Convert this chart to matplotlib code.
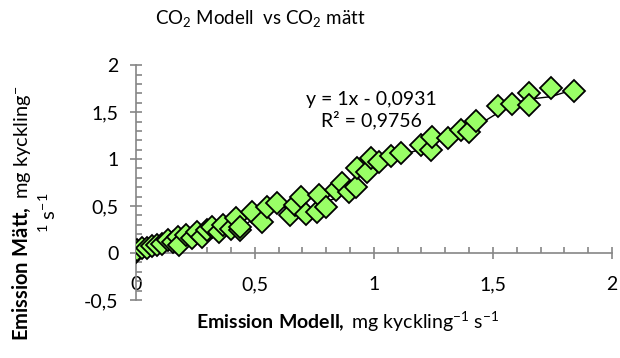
import numpy as np
import matplotlib.pyplot as plt
from matplotlib.ticker import MultipleLocator

plt.rcParams['font.family'] = ['Lato', 'DejaVu Sans']
plt.rcParams['mathtext.fontset'] = 'custom'
plt.rcParams['mathtext.rm'] = 'Lato'
plt.rcParams['mathtext.it'] = 'Lato'
plt.rcParams['mathtext.bf'] = 'Lato:bold'

x_modell = [0.0, 0.004, 0.025, 0.046, 0.067, 0.088, 0.11, 0.135, 0.155, 0.176, 0.18,
            0.21, 0.235, 0.256, 0.28, 0.30, 0.32, 0.35, 0.365, 0.40, 0.42, 0.436, 0.436,
            0.49, 0.53, 0.553, 0.595, 0.646, 0.667, 0.696, 0.717, 0.763, 0.77, 0.80,
            0.843, 0.868, 0.897, 0.927, 0.93, 0.97, 0.99, 1.02, 1.07, 1.115, 1.20,
            1.24, 1.245, 1.31, 1.367, 1.40, 1.43, 1.52, 1.58, 1.65, 1.65, 1.745, 1.84]
y_matt = [0.01, 0.03, 0.05, 0.05, 0.07, 0.085, 0.10, 0.14, 0.12, 0.17, 0.09,
          0.19, 0.16, 0.22, 0.17, 0.24, 0.28, 0.22, 0.30, 0.26, 0.37, 0.245, 0.277,
          0.436, 0.33, 0.49, 0.53, 0.40, 0.51, 0.60, 0.42, 0.44, 0.62, 0.49,
          0.67, 0.745, 0.65, 0.70, 0.90, 0.86, 1.01, 0.97, 1.03, 1.06, 1.15,
          1.10, 1.23, 1.22, 1.31, 1.29, 1.41, 1.57, 1.59, 1.70, 1.575, 1.755, 1.73]

trend_text = "y = 1x - 0,0931\nR² = 0,9756"

x = np.array(x_modell)
y = np.array(y_matt)
# smoothed line through the points (2-point moving average)
y_avg = np.convolve(y, [0.5, 0.5], mode='valid')
x_avg = x[1:]

gray = '#868686'
fig = plt.figure(figsize=(6.2, 3.58), dpi=100)
ax = fig.add_axes([0.219, 0.162, 0.768, 0.656])

ax.plot(x_avg, y_avg, color='black', lw=1, zorder=2)
ax.plot(x, y, linestyle='none', marker='D', ms=11, markerfacecolor='#99FF66',
        markeredgecolor='black', markeredgewidth=1.3, zorder=3)

ax.set_xlim(0, 2)
ax.set_ylim(-0.5, 2)

for s in ['top', 'right', 'bottom']:
    ax.spines[s].set_visible(False)
ax.spines['left'].set_color(gray)
ax.spines['left'].set_linewidth(1.2)

fmt = lambda v, p: f"{v:g}".replace('.', ',')

ax.yaxis.set_major_locator(MultipleLocator(0.5))
ax.yaxis.set_minor_locator(MultipleLocator(0.1))
ax.yaxis.set_major_formatter(fmt)
ax.tick_params(axis='y', which='major', direction='inout', length=9, width=1.2,
               color=gray, labelsize=14, pad=8)
ax.tick_params(axis='y', which='minor', direction='in', length=4, width=1.2, color=gray)
ax.tick_params(axis='x', which='both', bottom=False, labelbottom=False)

sec = ax.secondary_xaxis(0.2)
sec.spines['bottom'].set_color(gray)
sec.spines['bottom'].set_linewidth(1.2)
sec.xaxis.set_major_locator(MultipleLocator(0.5))
sec.xaxis.set_minor_locator(MultipleLocator(0.1))
sec.xaxis.set_major_formatter(fmt)
sec.tick_params(axis='x', which='major', direction='inout', length=9, width=1.2,
                color=gray, labelsize=14, pad=12)
sec.tick_params(axis='x', which='minor', direction='in', length=4, width=1.2, color=gray)

ax.text(0.99, 1.52, trend_text, ha='center', va='center', fontsize=14,
        linespacing=1.15, zorder=4)

fig.text(0.42, 0.947, r"CO$_2$ Modell  vs CO$_2$ mätt", ha='center', va='center',
         fontsize=13.5)
fig.text(0.561, 0.10, r"$\mathbf{Emission\ Modell,}$ mg kyckling$^{-1}$ s$^{-1}$",
         ha='center', va='center', fontsize=14)
fig.text(0.035, 0.405, r"$\mathbf{Emission\ Mätt,}$ mg kyckling$^{-}$",
         ha='center', va='center', rotation=90, fontsize=14.5)
fig.text(0.078, 0.405, r"$^{1}$ s$^{-1}$",
         ha='center', va='center', rotation=90, fontsize=14.5)

fig.savefig('out.png', dpi=100)
